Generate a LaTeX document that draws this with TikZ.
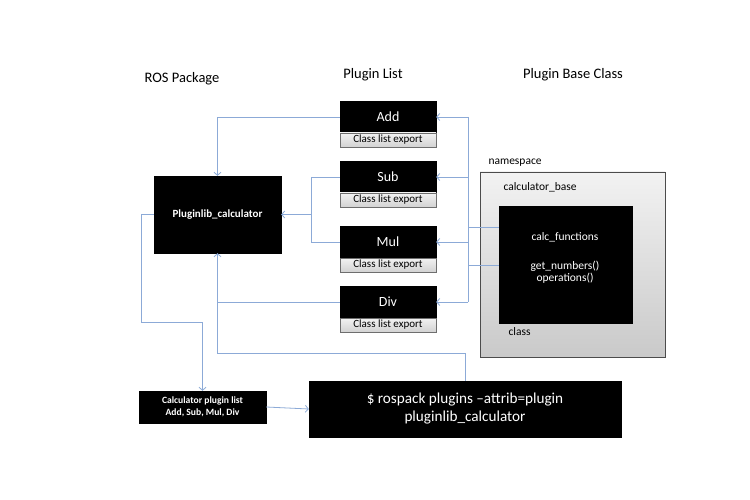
\documentclass[tikz,border=0pt]{standalone}
\usepackage{fontspec}
\setmainfont{Carlito}
\usetikzlibrary{arrows.meta}
\definecolor{conn}{RGB}{140,170,215}
\definecolor{stripedge}{RGB}{110,110,110}
\tikzset{
  blk/.style={draw=black,fill=black,text=white,inner sep=0pt,align=center},
  strip/.style={draw=stripedge,top color=gray!10,bottom color=gray!35,inner sep=0pt,font=\fontsize{11}{12}\selectfont},
  lnk/.style={draw=conn,line width=0.8pt},
  arr/.style={lnk,-{Straight Barb[length=3pt,width=7pt]}},
  title/.style={font=\fontsize{14.5}{16}\selectfont},
  plug/.style={blk,minimum width=96pt,minimum height=32pt,font=\fontsize{14}{16}\selectfont},
  stripbox/.style={strip,minimum width=96pt,minimum height=14pt},
  lbl/.style={font=\fontsize{11.5}{12}\selectfont},
}
\begin{document}
\begin{tikzpicture}[x=1pt,y=-1pt]
\useasboundingbox[fill=white] (0,0) rectangle (750,500);

% titles
\node[title] (t1) at (182,79) {ROS Package};
\node[title] (t2) at (373,75) {Plugin List};
\node[title] (t3) at (573,75) {Plugin Base Class};

% plugins
\node[plug] (add) at (388,117) {Add};
\node[stripbox] (adds) at (388,140) {Class list export};
\node[plug] (sub) at (388,177) {Sub};
\node[stripbox] (subs) at (388,200) {Class list export};
\node[plug] (mul) at (388,242) {Mul};
\node[stripbox] (muls) at (388,265) {Class list export};
\node[plug] (div) at (388,302) {Div};
\node[stripbox] (divs) at (388,325) {Class list export};

% pluginlib
\node[blk,minimum width=127pt,minimum height=77pt,font=\bfseries\fontsize{11}{13}\selectfont] (plc) at (217.5,214.5) {Pluginlib\_calculator};

% namespace
\node[draw=gray!60!black,top color=gray!10,bottom color=gray!42,minimum width=185pt,minimum height=185pt,inner sep=0pt] (ns) at (572.5,264.5) {};
\node[anchor=west,lbl] (nsl) at (485,163) {namespace};
\node[anchor=west,lbl] (cbl) at (500,187) {calculator\_base};
\node[blk,minimum width=133pt,minimum height=117pt] (cls) at (565.5,264.5) {};
\node[text=white,lbl] (cf) at (565,237) {calc\_functions};
\node[text=white,lbl,align=center] (ops) at (565,272) {get\_numbers()\\operations()};
\node[anchor=west,lbl] (clsl) at (505,332) {class};

% bottom boxes
\node[blk,minimum width=127pt,minimum height=32pt,font=\bfseries\fontsize{9.6}{12}\selectfont] (cpl) at (202.5,407) {Calculator plugin list\\Add, Sub, Mul, Div};
\node[blk,minimum width=312pt,minimum height=56pt,font=\fontsize{15.2}{18}\selectfont] (rp) at (465,409) {\$ rospack plugins –attrib=plugin\\pluginlib\_calculator};

% coordinates
\coordinate (bus) at (468,0);
\coordinate (bk) at (311,0);
\coordinate (lk) at (141,322);
\coordinate (c1) at (499,227);
\coordinate (c2) at (499,265);

% connectors: plugins to pluginlib
\draw[arr] (add.west) -| (plc.north);
\draw[lnk] (sub.west) -| (bk |- mul.west) -- (mul.west);
\draw[arr] (bk |- plc.east) -- (plc.east);
\draw[lnk] (div.west) -- (div.west -| plc.south);
\draw[arr] (rp.north) -- ++(0,-27) -| (plc.south);
\draw[arr] (plc.west) -| (lk) -| (cpl.north);
\draw[arr] (cpl.east) -- (rp.west);

% base class to plugins
\draw[lnk] (bus |- add.east) -- (bus |- div.east);
\draw[lnk] (c1) -- (c1 -| bus);
\draw[lnk] (c2) -- (c2 -| bus);
\draw[arr] (bus |- add.east) -- (add.east);
\draw[arr] (bus |- sub.east) -- (sub.east);
\draw[arr] (bus |- mul.east) -- (mul.east);
\draw[arr] (bus |- div.east) -- (div.east);
\end{tikzpicture}
\end{document}
